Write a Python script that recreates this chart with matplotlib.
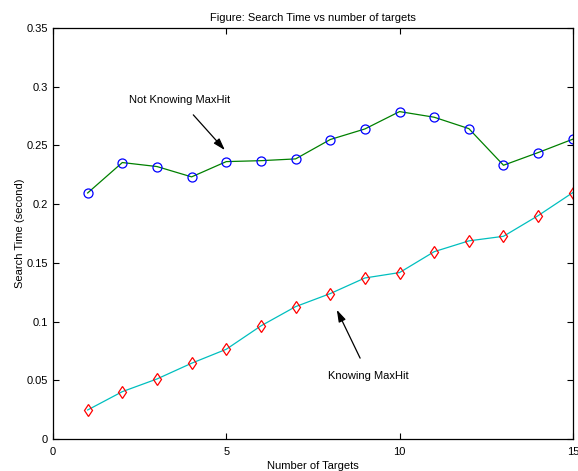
import matplotlib
matplotlib.use("Agg")
import matplotlib.pyplot as plt

plt.rcParams["font.family"] = ["Liberation Sans", "DejaVu Sans"]

# hedef sayisi ve arama sureleri
targets = [1, 2, 3, 4, 5, 6, 7, 8, 9, 10, 11, 12, 13, 14, 15]
not_knowing = [0.2095, 0.2354, 0.2320, 0.2232, 0.2362, 0.2370, 0.2385, 0.2550,
               0.2640, 0.2788, 0.2740, 0.2643, 0.2331, 0.2439, 0.2553]
knowing = [0.0247, 0.0403, 0.0511, 0.0645, 0.0764, 0.0963, 0.1127, 0.1238,
           0.1371, 0.1417, 0.1595, 0.1687, 0.1726, 0.1902, 0.2098]

fig = plt.figure(figsize=(5.78, 4.71), dpi=100)
ax = fig.add_axes([0.0917, 0.068, 0.8993, 0.8726])

ax.plot(targets, not_knowing, color="#008000", lw=0.9)
ax.plot(targets, not_knowing, "o", mfc="none", mec="blue", ms=6.5, mew=0.9)
ax.plot(targets, knowing, color="#00bfbf", lw=0.9)
ax.plot(targets, knowing, "d", mfc="none", mec="red", ms=6.5, mew=0.9)

ax.annotate("Not Knowing MaxHit", xy=(4.96, 0.246), xytext=(3.66, 0.2888),
            ha="center", va="center", fontsize=8,
            arrowprops=dict(arrowstyle="-|>,head_width=0.25,head_length=0.8",
                            color="black", lw=0.9,
                            shrinkA=7, shrinkB=0, mutation_scale=9))
ax.annotate("Knowing MaxHit", xy=(8.19, 0.110), xytext=(9.11, 0.0537),
            ha="center", va="center", fontsize=8,
            arrowprops=dict(arrowstyle="-|>,head_width=0.25,head_length=0.8",
                            color="black", lw=0.9,
                            shrinkA=8, shrinkB=0, mutation_scale=9))

ax.set_xlim(0, 15)
ax.set_ylim(0, 0.35)
ax.set_xticks([0, 5, 10, 15])
ax.set_yticks([0, 0.05, 0.1, 0.15, 0.2, 0.25, 0.3, 0.35])
ax.set_yticklabels(["0", "0.05", "0.1", "0.15", "0.2", "0.25", "0.3", "0.35"])
ax.tick_params(direction="in", top=True, right=True, labelsize=8, length=4, width=0.8)
ax.tick_params(axis="x", pad=6)
for s in ax.spines.values():
    s.set_linewidth(0.9)

ax.set_title("Figure: Search Time vs number of targets", fontsize=8, pad=5)
ax.set_xlabel("Number of Targets", fontsize=8, labelpad=3)
ax.set_ylabel("Search Time (second)", fontsize=8, labelpad=1)

fig.savefig("out.png", dpi=100)
